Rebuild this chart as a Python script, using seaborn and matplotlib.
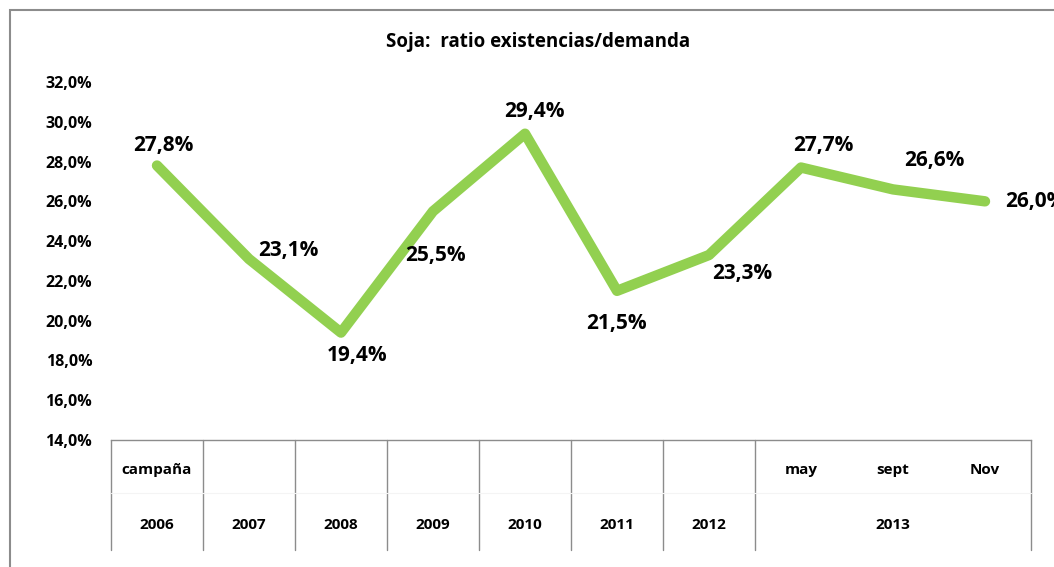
#!/usr/bin/env python3
# -*- coding: utf-8 -*-

#------------------
# IMPORTS
#------------------
import numpy as np
import pandas as pd
import matplotlib
matplotlib.use('Agg')
import matplotlib.pyplot as plt
import matplotlib.ticker as ticker
import matplotlib.transforms as mtransforms
from matplotlib.patches import Rectangle
import seaborn as sns

# --------------------
# DATA
# --------------------
title = 'Soja:  ratio existencias/demanda'
row1_labels = ['campaña', '', '', '', '', '', '', 'may', 'sept', 'Nov']
year_labels = ['2006', '2007', '2008', '2009', '2010', '2011', '2012']
year_2013 = '2013'
ratio = [27.8, 23.1, 19.4, 25.5, 29.4, 21.5, 23.3, 27.7, 26.6, 26.0]
yticks = [14, 16, 18, 20, 22, 24, 26, 28, 30, 32]

# label placement per point: (dx px, dy px, ha, va)
label_pos = [(6, 10, 'center', 'bottom'),
             (9, -2, 'left', 'bottom'),
             (16, -12, 'center', 'top'),
             (-28, -34, 'left', 'top'),
             (9, 12, 'center', 'bottom'),
             (-1, -22, 'center', 'top'),
             (3, -8, 'left', 'top'),
             (22, 12, 'center', 'bottom'),
             (41, 18, 'center', 'bottom'),
             (20, 0, 'left', 'center')]

LINE_COLOR = '#92D050'
FONT = ['Open Sans', 'DejaVu Sans']


# --------------------
# FUNCTIONS
# --------------------
def fmt_pct(v):
    return '{:.1f}%'.format(v).replace('.', ',')


def draw_table(ax):
    trans = mtransforms.blended_transform_factory(ax.transData, ax.transAxes)
    lo = -0.307
    for xb in [-0.5, 0.5, 1.5, 2.5, 3.5, 4.5, 5.5, 6.5, 9.5]:
        ax.plot([xb, xb], [0, lo], transform=trans, color='#8c8c8c',
                lw=1.0, clip_on=False)
    ax.plot([-0.5, 9.5], [-0.148, -0.148], transform=trans, color='#f4f4f4',
            lw=0.8, clip_on=False)
    for i, lab in enumerate(row1_labels):
        if lab:
            ax.text(i, -0.084, lab, transform=trans, ha='center', va='center',
                    fontsize=11, fontweight='bold', family=FONT, color='black')
    for i, lab in enumerate(year_labels):
        ax.text(i, -0.237, lab, transform=trans, ha='center', va='center',
                fontsize=11, fontweight='bold', family=FONT, color='black')
    ax.text(8, -0.237, year_2013, transform=trans, ha='center', va='center',
            fontsize=11, fontweight='bold', family=FONT, color='black')


def annotate_points(ax, df):
    for i, row in df.iterrows():
        dx, dy, ha, va = label_pos[i]
        ax.annotate(fmt_pct(row['ratio']), (row['x'], row['ratio']),
                    xytext=(dx * 0.72, dy * 0.72), textcoords='offset points',
                    ha=ha, va=va, fontsize=15, fontweight='bold',
                    family=FONT, color='black', annotation_clip=False)


# --------------------
# MAIN PROGRAM
# --------------------
if __name__ == "__main__":

    sns.set_theme(style='white')
    plt.rcParams['font.family'] = FONT

    df = pd.DataFrame({'x': np.arange(len(ratio)), 'ratio': ratio})

    fig = plt.figure(figsize=(10.54, 5.67), dpi=100)
    ax = fig.add_axes([111 / 1054, 1 - 440 / 567, (1031 - 111) / 1054, (440 - 82) / 567])

    sns.lineplot(data=df, x='x', y='ratio', ax=ax, color=LINE_COLOR, lw=7.5,
                 solid_capstyle='round', solid_joinstyle='round')

    ax.set_xlim(-0.5, 9.5)
    ax.set_ylim(14, 32)
    ax.set_yticks(yticks)
    ax.yaxis.set_major_formatter(ticker.FuncFormatter(lambda v, p: fmt_pct(v)))
    ax.set_xticks([])
    ax.set_xlabel('')
    ax.set_ylabel('')
    ax.tick_params(axis='y', length=0, pad=13.5, labelsize=11.5, labelcolor='black')
    for lab in ax.get_yticklabels():
        lab.set_fontweight('bold')
    for side in ['top', 'right', 'left']:
        ax.spines[side].set_visible(False)
    ax.spines['bottom'].set_color('#8c8c8c')
    ax.spines['bottom'].set_linewidth(1.0)
    ax.patch.set_alpha(0)

    draw_table(ax)
    annotate_points(ax, df)

    fig.text(538 / 1054, 1 - 42 / 567, title, ha='center', va='center',
             fontsize=13.5, fontweight='bold', family=FONT, color='black')

    # outer chart border (clipped on the right and bottom)
    fig.patches.append(Rectangle((9.5 / 1054, -0.05), 1.2, 1 - 9.5 / 567 + 0.05,
                                 transform=fig.transFigure, fill=False,
                                 edgecolor='#8c8c8c', lw=1.5))

    fig.savefig('out.png', dpi=100)
    plt.close()
